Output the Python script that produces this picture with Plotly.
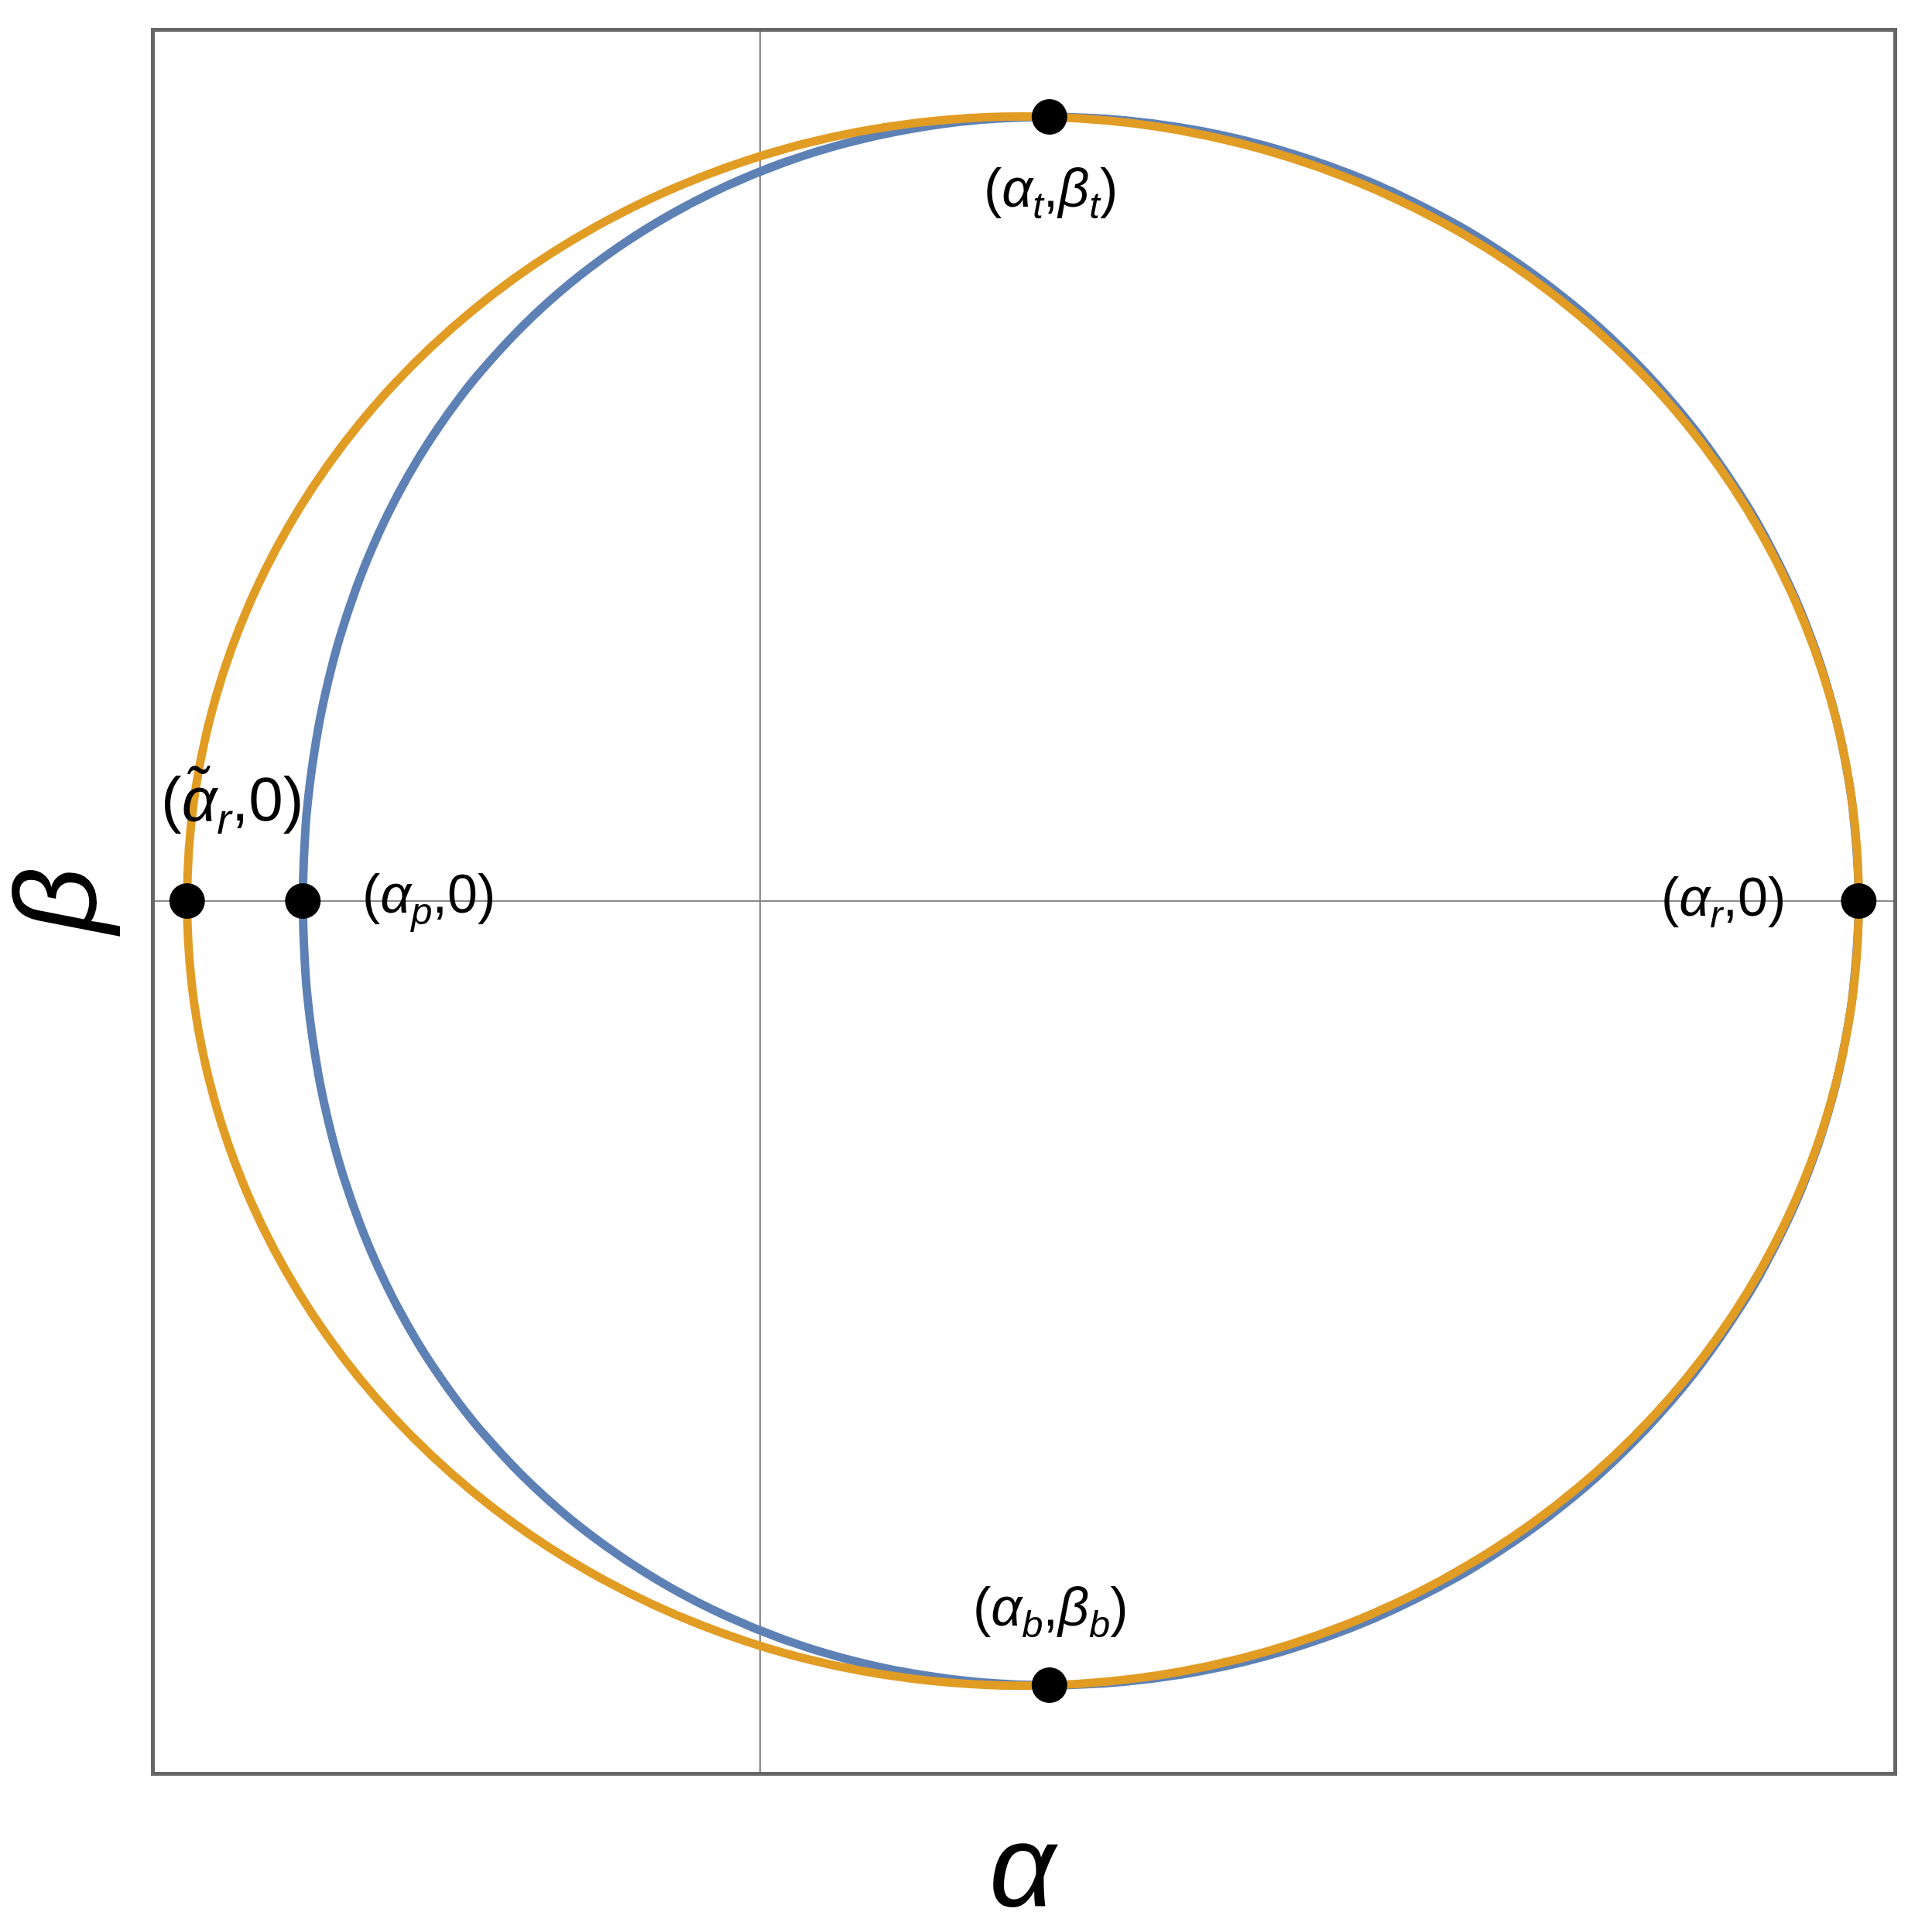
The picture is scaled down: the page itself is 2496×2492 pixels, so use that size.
import plotly.graph_objects as go

# Kerr shadow (blue): upper half left->right, then lower half right->left
blue_alpha = [-2.844, -2.826, -2.813, -2.787, -2.737, -2.687, -2.614, -2.492, -2.371, -2.250,
              -2.127, -2.002, -1.875, -1.744, -1.473, -1.185, -0.880, -0.557, -0.215, 0.147,
              0.529, 0.932, 1.356, 1.800, 2.266, 2.753, 3.261, 3.791, 4.342, 4.626,
              4.915, 5.210, 5.510, 5.816, 6.127, 6.253, 6.444, 6.572, 6.636, 6.701,
              6.765, 6.798, 6.834,
              6.798, 6.765, 6.701, 6.636, 6.572, 6.444, 6.253, 6.127, 5.816, 5.510,
              5.210, 4.915, 4.626, 4.342, 3.791, 3.261, 2.753, 2.266, 1.800, 1.356,
              0.932, 0.529, 0.147, -0.215, -0.557, -0.880, -1.185, -1.473, -1.744, -1.875,
              -2.002, -2.127, -2.250, -2.371, -2.492, -2.614, -2.687, -2.737, -2.787, -2.813,
              -2.826, -2.844]
blue_beta = [0.000, 0.507, 0.659, 0.885, 1.209, 1.454, 1.748, 2.131, 2.439, 2.700,
             2.930, 3.136, 3.325, 3.500, 3.813, 4.090, 4.334, 4.549, 4.735, 4.893,
             5.020, 5.115, 5.175, 5.196, 5.173, 5.100, 4.968, 4.766, 4.476, 4.289,
             4.070, 3.810, 3.499, 3.120, 2.642, 2.410, 1.994, 1.643, 1.430, 1.175,
             0.840, 0.603, 0.000,
             -0.603, -0.840, -1.175, -1.430, -1.643, -1.994, -2.410, -2.642, -3.120, -3.499,
             -3.810, -4.070, -4.289, -4.476, -4.766, -4.968, -5.100, -5.173, -5.196, -5.175,
             -5.115, -5.020, -4.893, -4.735, -4.549, -4.334, -4.090, -3.813, -3.500, -3.325,
             -3.136, -2.930, -2.700, -2.439, -2.131, -1.748, -1.454, -1.209, -0.885, -0.659,
             -0.507, 0.000]

# reference circle (orange)
orange_alpha = [-3.564, -3.520, -3.387, -3.168, -2.867, -2.490, -2.041, -1.530, -0.965, -0.355,
                0.289, 0.956, 1.635, 2.314, 2.981, 3.625, 4.235, 4.800, 5.311, 5.760,
                6.137, 6.438, 6.657, 6.790, 6.834,
                6.790, 6.657, 6.438, 6.137, 5.760, 5.311, 4.800, 4.235, 3.625, 2.981,
                2.314, 1.635, 0.956, 0.289, -0.355, -0.965, -1.530, -2.041, -2.490, -2.867,
                -3.168, -3.387, -3.520, -3.564]
orange_beta = [0.000, 0.679, 1.346, 1.990, 2.600, 3.165, 3.676, 4.125, 4.502, 4.803,
               5.022, 5.154, 5.199, 5.154, 5.022, 4.803, 4.502, 4.125, 3.676, 3.165,
               2.600, 1.990, 1.346, 0.679, 0.000,
               -0.679, -1.346, -1.990, -2.600, -3.165, -3.676, -4.125, -4.502, -4.803, -5.022,
               -5.154, -5.199, -5.154, -5.022, -4.803, -4.502, -4.125, -3.676, -3.165, -2.600,
               -1.990, -1.346, -0.679, 0.000]

# marked points
pts_alpha = [-3.564, -2.844, 6.834, 1.800, 1.800]
pts_beta = [0.0, 0.0, 0.0, 5.196, -5.196]

# labels
lab_text = ["(<i>α̃</i><sub><i>r</i></sub>,0)", "(<i>α</i><sub><i>p</i></sub>,0)",
            "(<i>α</i><sub><i>r</i></sub>,0)", "(<i>α</i><sub><i>t</i></sub>,<i>β</i><sub><i>t</i></sub>)",
            "(<i>α</i><sub><i>b</i></sub>,<i>β</i><sub><i>b</i></sub>)"]
lab_x = [-3.284, -2.061, 5.994, 1.806, 1.806]
lab_y = [0.646, 0.02, 0.0, 4.697, -4.703]
lab_size = [80, 70, 70, 70, 70]

fig = go.Figure()
fig.add_trace(go.Scatter(x=blue_alpha, y=blue_beta, mode="lines",
                         line=dict(color="#5E81B5", width=11, shape="spline", smoothing=1)))
fig.add_trace(go.Scatter(x=orange_alpha, y=orange_beta, mode="lines",
                         line=dict(color="#E19C24", width=11, shape="spline", smoothing=1)))
fig.add_trace(go.Scatter(x=pts_alpha, y=pts_beta, mode="markers",
                         marker=dict(color="black", size=46)))

for t, x, y, s in zip(lab_text, lab_x, lab_y, lab_size):
    fig.add_annotation(x=x, y=y, text=t, showarrow=False, xanchor="center", yanchor="middle",
                       font=dict(size=s, color="black", family="Liberation Sans"))

fig.add_annotation(xref="paper", yref="paper", x=0.5, y=-0.054, text="<i>α</i>", showarrow=False,
                   xanchor="center", yanchor="middle", font=dict(size=150, color="black", family="Liberation Sans"))
fig.add_annotation(xref="paper", yref="paper", x=-0.057, y=0.5, text="<i>β</i>", showarrow=False, textangle=-90,
                   xanchor="center", yanchor="middle", font=dict(size=150, color="black", family="Liberation Sans"))

axis_style = dict(showgrid=False, showticklabels=False, ticks="", zeroline=True,
                  zerolinecolor="#8a8a8a", zerolinewidth=1.5,
                  showline=True, mirror=True, linecolor="#666666", linewidth=5)
fig.update_xaxes(range=[-3.765, 7.049], **axis_style)
fig.update_yaxes(range=[-5.77, 5.76], **axis_style)
# page body adds 8px margin, so the figure is a little smaller than the window
fig.update_layout(width=2480, height=2476, showlegend=False,
                  margin=dict(l=192, r=42, t=33, b=195),
                  plot_bgcolor="white", paper_bgcolor="white")
fig.write_html("out.html")
